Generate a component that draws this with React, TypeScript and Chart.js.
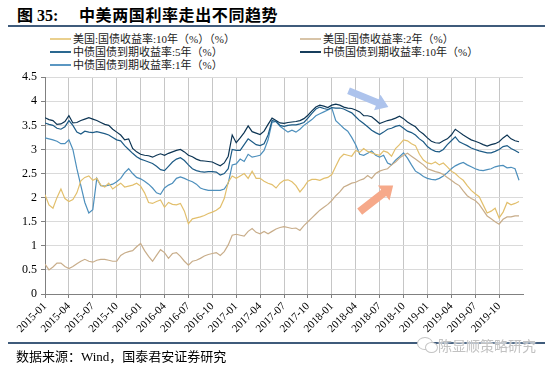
import React, { useEffect, useRef } from 'react';
import { Chart, registerables } from 'chart.js';

Chart.register(...registerables);

// ---------- data (half-month samples, first = 2015-01) ----------
const START_YEAR = 2015;
const STEP_MONTHS = 0.5;
const X_MAX_MONTHS = 60;
const X_TICK_STEP = 3;
const Y_MAX = 4.5;
const Y_STEP = 0.5;

const us10y = [
  2.06, 1.85, 1.78, 2.0, 2.18, 1.98, 1.92, 1.96, 2.1, 2.35,
  2.42, 2.45, 2.36, 2.4, 2.26, 2.22, 2.3, 2.18, 2.24, 2.3,
  2.22, 2.24, 2.26, 2.3, 2.24, 2.1, 1.9, 1.88, 1.92, 1.95,
  1.8, 1.9, 1.86, 1.85, 1.88, 1.72, 1.46, 1.56, 1.58, 1.6,
  1.63, 1.67, 1.7, 1.74, 1.8, 1.98, 2.32, 2.45, 2.4, 2.45,
  2.5, 2.4, 2.55, 2.4, 2.4, 2.34, 2.3, 2.27, 2.2, 2.3,
  2.36, 2.37, 2.33, 2.25, 2.12, 2.22, 2.34, 2.38, 2.38, 2.36,
  2.4, 2.42, 2.48, 2.65, 2.82, 2.9, 2.88, 2.86, 2.98, 2.94,
  3.02, 2.96, 2.93, 2.9, 2.88, 2.97, 2.94, 2.86, 3.02, 3.1,
  3.2, 3.18, 3.12, 3.08, 2.9, 2.78, 2.72, 2.7, 2.74, 2.68,
  2.72, 2.64, 2.55, 2.5, 2.42, 2.36, 2.25, 2.15, 2.08, 2.02,
  1.85, 1.68, 1.72, 1.78, 1.58, 1.7, 1.9, 1.85, 1.88, 1.92,
];

const us2y = [
  0.62, 0.5, 0.56, 0.64, 0.64, 0.57, 0.53, 0.57, 0.63, 0.68,
  0.72, 0.68, 0.66, 0.7, 0.72, 0.72, 0.7, 0.68, 0.68, 0.8,
  0.85, 0.88, 0.9, 0.98, 1.05, 0.9, 0.78, 0.68, 0.8, 0.92,
  0.86, 0.74, 0.84, 0.86, 0.78, 0.68, 0.6, 0.68, 0.7, 0.74,
  0.79, 0.82, 0.84, 0.86, 0.8, 0.88, 1.02, 1.22, 1.24, 1.22,
  1.2, 1.3, 1.36, 1.28, 1.25, 1.3, 1.25, 1.3, 1.35, 1.38,
  1.4, 1.38, 1.36, 1.37, 1.32, 1.42, 1.5, 1.58, 1.66, 1.74,
  1.8, 1.86, 1.94, 2.04, 2.12, 2.22, 2.26, 2.3, 2.32, 2.36,
  2.39, 2.46, 2.4, 2.5, 2.55, 2.58, 2.6, 2.68, 2.74, 2.82,
  2.88, 2.92, 2.86, 2.8, 2.74, 2.68, 2.6, 2.57, 2.54, 2.52,
  2.48, 2.42, 2.36, 2.3, 2.25, 2.14, 2.04, 1.98, 1.94, 1.86,
  1.74, 1.62, 1.56, 1.5, 1.45, 1.55, 1.6, 1.6, 1.62, 1.62,
];

const cn5y = [
  3.55, 3.52, 3.5, 3.44, 3.42, 3.47, 3.6, 3.5, 3.36, 3.32,
  3.38, 3.36, 3.35, 3.37, 3.35, 3.33, 3.3, 3.25, 3.2, 3.18,
  3.08, 3.0, 2.92, 2.85, 2.8, 2.77, 2.74, 2.71, 2.65, 2.58,
  2.56, 2.65, 2.74, 2.8, 2.83, 2.77, 2.68, 2.6, 2.56, 2.54,
  2.53, 2.54, 2.54, 2.53, 2.47, 2.5, 2.6, 3.0, 2.98, 2.98,
  3.1, 3.22, 3.16, 3.1, 3.08, 3.12, 3.3, 3.6, 3.58, 3.5,
  3.48, 3.5, 3.51, 3.51, 3.53, 3.56, 3.65, 3.75, 3.84, 3.88,
  3.85, 3.83, 3.87, 3.86, 3.86, 3.84, 3.8, 3.76, 3.68, 3.6,
  3.54, 3.47, 3.4, 3.35, 3.31, 3.36, 3.42, 3.44, 3.48, 3.5,
  3.44, 3.38, 3.35, 3.3, 3.22, 3.16, 3.06, 3.0, 2.96, 2.95,
  3.0, 3.1, 3.18, 3.26, 3.16, 3.12, 3.08, 3.03, 3.0, 2.97,
  2.95, 2.93, 2.93, 2.96, 3.0, 3.06, 3.08, 3.02, 2.98, 2.93,
];

const cn10y = [
  3.66, 3.62, 3.6, 3.52, 3.53, 3.58, 3.7, 3.55, 3.56, 3.6,
  3.63, 3.66, 3.63, 3.6, 3.56, 3.52, 3.5, 3.42, 3.36, 3.3,
  3.2, 3.22, 3.02, 2.95, 2.9, 2.88, 2.87, 2.84, 2.88, 2.91,
  2.88, 2.92, 2.95, 2.98, 3.0, 2.95, 2.88, 2.85, 2.8, 2.77,
  2.76, 2.75, 2.74, 2.7, 2.66, 2.72, 2.86, 3.3, 3.14, 3.24,
  3.35, 3.49, 3.37, 3.34, 3.31, 3.38, 3.52, 3.65, 3.6, 3.55,
  3.54, 3.56, 3.57, 3.58, 3.6, 3.64, 3.71, 3.8, 3.88, 3.92,
  3.9, 3.87, 3.92, 3.94, 3.92, 3.88, 3.86, 3.85, 3.82, 3.78,
  3.7, 3.7, 3.68, 3.61, 3.54, 3.57, 3.6, 3.62, 3.65, 3.69,
  3.64, 3.57, 3.52, 3.47, 3.38, 3.32, 3.24, 3.17, 3.14, 3.13,
  3.18, 3.22, 3.3, 3.42, 3.36, 3.3, 3.25, 3.2, 3.17, 3.14,
  3.1, 3.07, 3.1, 3.12, 3.16, 3.24, 3.3, 3.22, 3.18, 3.16,
];

const cn1y = [
  3.24, 3.22, 3.2, 3.17, 3.12, 3.12, 3.2, 3.0, 2.6, 2.25,
  1.9, 1.68, 1.75, 2.4, 2.25, 2.24, 2.26, 2.28, 2.33, 2.4,
  2.52, 2.6, 2.5, 2.42, 2.39, 2.34, 2.28, 2.2, 2.1, 2.07,
  2.2, 2.26, 2.3, 2.4, 2.43, 2.4, 2.36, 2.33, 2.28, 2.2,
  2.17, 2.15, 2.15, 2.15, 2.15, 2.18, 2.3, 2.68, 2.7, 2.8,
  2.75, 2.9, 2.84, 2.86, 2.88, 2.98, 3.2, 3.56, 3.58, 3.48,
  3.42, 3.36, 3.4, 3.36, 3.42, 3.5, 3.56, 3.62, 3.7, 3.74,
  3.78, 3.82, 3.86, 3.6, 3.52, 3.44, 3.38, 3.25, 3.1, 2.9,
  2.88, 2.92, 2.97, 2.88, 2.84, 2.88, 2.72, 2.68, 2.78, 2.85,
  2.93, 2.82, 2.68, 2.55, 2.5, 2.44, 2.4, 2.38, 2.37, 2.4,
  2.45, 2.52, 2.6, 2.66, 2.7, 2.73, 2.68, 2.64, 2.6, 2.57,
  2.56, 2.58, 2.6, 2.64, 2.66, 2.67, 2.62, 2.63, 2.6, 2.36,
];

const LABEL_US10 = '美国:国债收益率:10年（%）（%）';
const LABEL_US2 = '美国:国债收益率:2年（%）';
const LABEL_CN5 = '中债国债到期收益率:5年（%）';
const LABEL_CN10 = '中债国债到期收益率:10年（%）';
const LABEL_CN1 = '中债国债到期收益率:1年（%）';

// annotation arrows, in data units [month, value]
const ARROWS = [
  { from: [38.1, 4.22], to: [43.1, 3.88], color: '#adc3ec', shaft: 7, head: 17, headLen: 12 },
  { from: [39.5, 1.71], to: [43.7, 2.25], color: '#f6a98a', shaft: 8, head: 19, headLen: 12 },
];

// ---------- styles ----------
const SERIF = "'Liberation Serif', 'Noto Sans CJK SC', serif";
const CJK = "'Noto Sans CJK SC', 'Liberation Serif', sans-serif";
const RULE = '#3f5b7b';

const SERIES = [
  { label: LABEL_US10, data: us10y, color: '#e2bf6c', legend: '#ead08e' },
  { label: LABEL_US2, data: us2y, color: '#c8ad8a', legend: '#d8c4a8' },
  { label: LABEL_CN5, data: cn5y, color: '#1d5b86', legend: '#2a6890' },
  { label: LABEL_CN10, data: cn10y, color: '#0c3453', legend: '#163d5c' },
  { label: LABEL_CN1, data: cn1y, color: '#4d8fbc', legend: '#5b97c2' },
];

const LEGEND_LAYOUT = [
  { idx: 0, left: 50, top: 39 },
  { idx: 1, left: 300, top: 39 },
  { idx: 2, left: 50, top: 52 },
  { idx: 3, left: 300, top: 52 },
  { idx: 4, left: 50, top: 65 },
];

const monthLabel = (v: number) => {
  const y = START_YEAR + Math.floor(v / 12);
  const m = (v % 12) + 1;
  return `${y}-${String(m).padStart(2, '0')}`;
};

const arrowPlugin = {
  id: 'arrows',
  afterDatasetsDraw(chart: any) {
    const { ctx, scales } = chart;
    const xs = scales.x;
    const ys = scales.y;
    for (const a of ARROWS) {
      const x1 = xs.getPixelForValue(a.from[0]);
      const y1 = ys.getPixelForValue(a.from[1]);
      const x2 = xs.getPixelForValue(a.to[0]);
      const y2 = ys.getPixelForValue(a.to[1]);
      const ang = Math.atan2(y2 - y1, x2 - x1);
      const len = Math.hypot(x2 - x1, y2 - y1);
      const hw = a.shaft / 2;
      const hh = a.head / 2;
      ctx.save();
      ctx.translate(x1, y1);
      ctx.rotate(ang);
      ctx.fillStyle = a.color;
      ctx.beginPath();
      ctx.moveTo(0, -hw);
      ctx.lineTo(len - a.headLen, -hw);
      ctx.lineTo(len - a.headLen, -hh);
      ctx.lineTo(len, 0);
      ctx.lineTo(len - a.headLen, hh);
      ctx.lineTo(len - a.headLen, hw);
      ctx.lineTo(0, hw);
      ctx.closePath();
      ctx.fill();
      ctx.restore();
    }
  },
};

function ChartCanvas() {
  const ref = useRef<HTMLCanvasElement | null>(null);
  useEffect(() => {
    if (!ref.current) return;
    const chart = new Chart(ref.current, {
      type: 'line',
      data: {
        datasets: SERIES.map((s) => ({
          label: s.label,
          data: s.data.map((v, i) => ({ x: i * STEP_MONTHS, y: v })),
          borderColor: s.color,
          backgroundColor: s.color,
          borderWidth: 1.2,
          pointRadius: 0,
          tension: 0,
          fill: false,
        })),
      },
      options: {
        animation: false,
        responsive: false,
        devicePixelRatio: 1,
        layout: { padding: { top: 7, right: 27, left: 0, bottom: 0 } },
        plugins: { legend: { display: false }, tooltip: { enabled: false } },
        scales: {
          x: {
            type: 'linear',
            min: 0,
            max: X_MAX_MONTHS,
            afterFit: (s: any) => {
              s.height = 49;
            },
            ticks: {
              stepSize: X_TICK_STEP,
              autoSkip: false,
              maxRotation: 45,
              minRotation: 45,
              padding: 2,
              color: '#000',
              font: { family: SERIF, size: 11 },
              callback: (value: any) => {
                const v = Number(value);
                if (v >= X_MAX_MONTHS) return null;
                return monthLabel(v);
              },
            },
            grid: { color: '#c6c6c6', lineWidth: 1, tickLength: 4, tickColor: '#808080' },
            border: { color: '#808080', width: 1 },
          },
          y: {
            min: 0,
            max: Y_MAX,
            afterFit: (s: any) => {
              s.width = 45;
            },
            ticks: {
              stepSize: Y_STEP,
              padding: 4,
              color: '#000',
              font: { family: SERIF, size: 12 },
              callback: (value: any) => String(Number(value)),
            },
            grid: { color: '#dadada', lineWidth: 1, tickLength: 4, tickColor: '#808080' },
            border: { color: '#808080', width: 1 },
          },
        },
      },
      plugins: [arrowPlugin],
    } as any);
    return () => chart.destroy();
  }, []);
  return (
    <canvas
      ref={ref}
      width={550}
      height={277}
      style={{ position: 'absolute', left: 0, top: 66, width: 550, height: 277 }}
    />
  );
}

export default function App() {
  return (
    <div
      style={{
        position: 'absolute',
        left: 0,
        top: 0,
        width: 550,
        height: 371,
        background: '#fff',
        overflow: 'hidden',
        fontFamily: SERIF,
        color: '#000',
      }}
    >
      {/* title */}
      <div
        style={{
          position: 'absolute',
          left: 17,
          top: 4,
          height: 20,
          lineHeight: '20px',
          fontSize: 16,
          fontWeight: 700,
          whiteSpace: 'nowrap',
        }}
      >
        <span style={{ fontFamily: CJK }}>图</span>
        <span style={{ fontFamily: SERIF }}> 35:</span>
      </div>
      <div
        style={{
          position: 'absolute',
          left: 79,
          top: 4,
          height: 20,
          lineHeight: '20px',
          fontSize: 16,
          fontWeight: 700,
          fontFamily: CJK,
          letterSpacing: 0.6,
          whiteSpace: 'nowrap',
        }}
      >
        中美两国利率走出不同趋势
      </div>
      <div style={{ position: 'absolute', left: 8, top: 25, width: 537, height: 2, background: RULE }} />

      {/* legend */}
      {LEGEND_LAYOUT.map((l) => {
        const s = SERIES[l.idx];
        return (
          <div key={l.idx} style={{ position: 'absolute', left: l.left, top: l.top - 7, height: 14, whiteSpace: 'nowrap' }}>
            <div style={{ position: 'absolute', left: 0, top: 6, width: 21, height: 2, background: s.legend }} />
            <div
              style={{
                position: 'absolute',
                left: 23,
                top: 0,
                height: 14,
                lineHeight: '14px',
                fontSize: 11,
                fontFamily: SERIF,
                color: '#222',
              }}
            >
              {s.label}
            </div>
          </div>
        );
      })}

      <ChartCanvas />

      {/* footer */}
      <div style={{ position: 'absolute', left: 8, top: 342, width: 537, height: 2, background: RULE }} />
      <div
        style={{
          position: 'absolute',
          left: 16,
          top: 348,
          height: 18,
          lineHeight: '18px',
          fontSize: 13,
          fontFamily: SERIF,
          whiteSpace: 'nowrap',
        }}
      >
        数据来源：Wind，国泰君安证券研究
      </div>
      {/* watermark */}
      <div style={{ position: 'absolute', left: 417, top: 337, width: 14, height: 11, border: '1.5px solid #c4c4c4', borderRadius: '50%', background: '#fff' }} />
      <div style={{ position: 'absolute', left: 425, top: 342, width: 11, height: 9, border: '1.5px solid #c4c4c4', borderRadius: '50%', background: '#fff' }} />
      <div
        style={{
          position: 'absolute',
          left: 438,
          top: 336,
          height: 18,
          lineHeight: '18px',
          fontSize: 14,
          fontFamily: CJK,
          color: '#c2c2c2',
          whiteSpace: 'nowrap',
          textShadow: '0 0 2px #fff, 0 0 2px #fff',
        }}
      >
        陈显顺策略研究
      </div>
    </div>
  );
}
